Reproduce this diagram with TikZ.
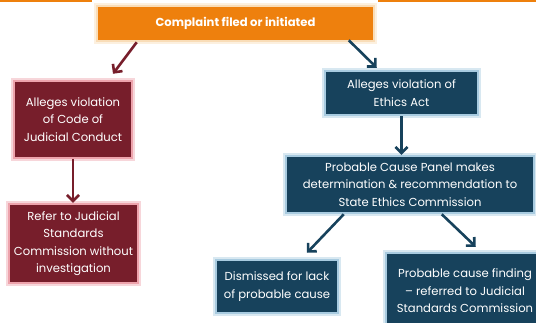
\documentclass[tikz,border=0pt]{standalone}
\usepackage{fontspec}
\setmainfont{Poppins}
\usetikzlibrary{arrows.meta,calc}
\definecolor{orng}{HTML}{EE800D}
\definecolor{orglow}{HTML}{F9DDB8}
\definecolor{dred}{HTML}{771E2B}
\definecolor{redglow}{HTML}{EDA3AC}
\definecolor{dblue}{HTML}{17425C}
\definecolor{blueglow}{HTML}{A8CBE0}
\tikzset{
  box/.style={rectangle, text=white, align=center, inner sep=0pt,
    font=\fontsize{11.6}{17.5}\selectfont},
  obox/.style={box, fill=orng, draw=orglow, line width=2.5pt,
    preaction={draw=orglow, line width=6pt, opacity=0.45}},
  rbox/.style={box, fill=dred, draw=redglow, line width=2.5pt,
    preaction={draw=redglow, line width=6pt, opacity=0.45}},
  bbox/.style={box, fill=dblue, draw=blueglow, line width=2.5pt,
    preaction={draw=blueglow, line width=6pt, opacity=0.45}},
  rarr/.style={draw=dred, line width=2.6pt, -{Straight Barb[length=6pt,width=12pt,line width=2.6pt]}},
  barr/.style={draw=dblue, line width=2.6pt, -{Straight Barb[length=6pt,width=12pt,line width=2.6pt]}},
  topline/.style={draw=orng, line width=2pt}
}
\begin{document}
\begin{tikzpicture}[x=1pt,y=-1pt]
\useasboundingbox (0,0) rectangle (536,322);
\coordinate (tl0) at (0,1);
\coordinate (tl1) at (92,1);
\coordinate (tr0) at (378,1);
\coordinate (tr1) at (536,1);
\draw[topline] (tl0) -- (tl1);
\draw[topline] (tr0) -- (tr1);

\node[obox, minimum width=277pt, minimum height=35pt, font=\fontsize{11.6}{17.5}\selectfont\bfseries] (top) at (235.5,23.5) {Complaint filed or initiated};
\node[rbox, minimum width=118pt, minimum height=77pt] (L1) at (73,119.5) {Alleges violation\\of Code of\\Judicial Conduct};
\node[rbox, minimum width=129pt, minimum height=79pt] (L2) at (73.5,243.5) {Refer to Judicial\\Standards\\Commission without\\investigation};
\node[bbox, minimum width=153pt, minimum height=44pt] (E) at (401.5,93) {Alleges violation of\\Ethics Act};
\node[bbox, minimum width=248pt, minimum height=57pt] (P) at (410,184.5) {Probable Cause Panel makes\\determination \& recommendation to\\State Ethics Commission};
\node[bbox, minimum width=122pt, minimum height=53pt] (D) at (277,286.5) {Dismissed for lack\\of probable cause};
\node[bbox, minimum width=158pt, minimum height=76pt] (F) at (465,291) {Probable cause finding\\-- referred to Judicial\\Standards Commission};

\draw[rarr] ($(top.south west)+(41,0)$) -- ($(L1.north)+(40,-6)$);
\draw[barr] ($(top.south west)+(253,-2)$) -- ($(E.north west)+(53,-2)$);
\draw[rarr] (L1.south) -- (L1.south |- L2.north);
\draw[barr] (E.south) -- (E.south |- P.north);
\draw[barr] ($(P.south west)+(59,0)$) -- ($(D.north)+(30,-6)$);
\draw[barr] ($(P.south west)+(157,0)$) -- ($(F.north west)+(91,-5)$);
\end{tikzpicture}
\end{document}
